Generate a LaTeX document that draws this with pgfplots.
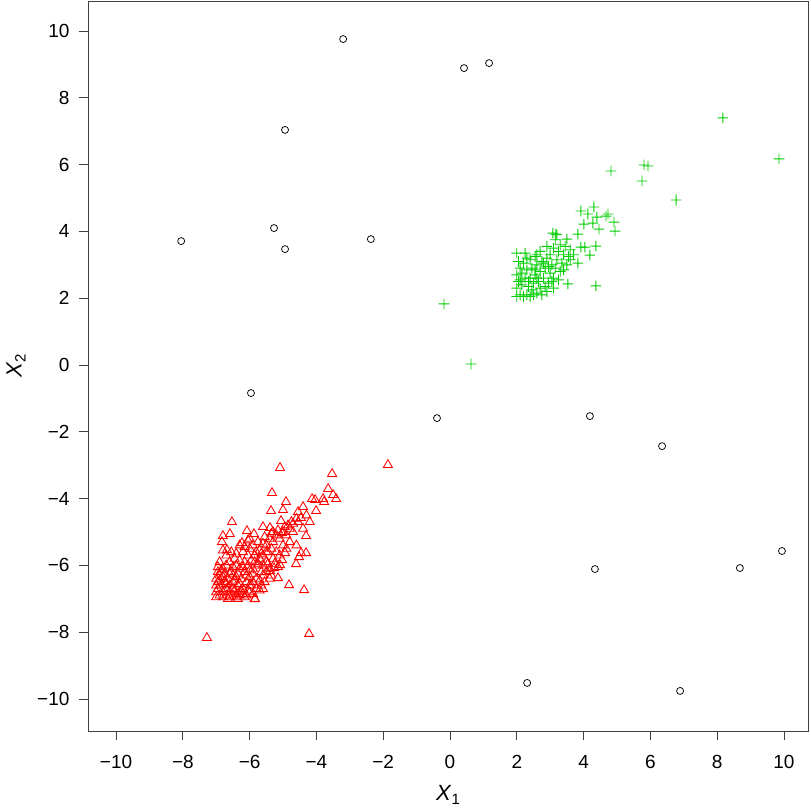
\documentclass[border=0pt]{standalone}
\usepackage{fontspec}
\setmainfont{Liberation Sans}
\usepackage{pgfplots}
\pgfplotsset{compat=1.18}
\definecolor{rgreen}{rgb}{0,0.804,0}
\pgfdeclareplotmark{gplus}{%
  \pgfsetfillcolor{rgreen}%
  \pgfpathrectangle{\pgfqpoint{-\pgfplotmarksize}{-0.45pt}}{\pgfqpoint{2\pgfplotmarksize}{0.9pt}}%
  \pgfpathrectangle{\pgfqpoint{-0.45pt}{-\pgfplotmarksize}}{\pgfqpoint{0.9pt}{2\pgfplotmarksize}}%
  \pgfusepathqfill}
\begin{document}
\begin{tikzpicture}
\begin{axis}[
  scale only axis, width=720pt, height=730pt,
  xmin=-10.84, xmax=10.72, ymin=-10.96, ymax=10.9,
  axis line style={line width=0.8pt, black!75},
  tick style={line width=0.8pt, black!75},
  tick align=outside, tick pos=left, major tick length=9pt,
  xtick={-10,-8,...,10}, ytick={-10,-8,...,10},
  xticklabels={−10,−8,−6,−4,−2,0,2,4,6,8,10},
  yticklabels={−10,−8,−6,−4,−2,0,2,4,6,8,10},
  ticklabel style={font=\fontsize{19}{22}\selectfont},
  xticklabel style={yshift=-12pt},
  yticklabel style={xshift=-6pt},
  xlabel={\textit{X}\raisebox{-0.35ex}{\fontsize{15}{15}\selectfont 1}},
  ylabel={\textit{X}\raisebox{-0.35ex}{\fontsize{15}{15}\selectfont 2}},
  label style={font=\fontsize{22}{24}\selectfont},
  xlabel style={at={(axis description cs:0.5,-0.0877)}, anchor=center},
  ylabel style={at={(axis description cs:-0.1,0.5)}, anchor=center},
  clip=false,
]
% black outliers
\addplot[black, only marks, mark=o, mark size=3.5pt, mark options={line width=0.75pt}] coordinates {
(-3.20,9.76) (0.42,8.89) (1.17,9.04) (-4.94,7.04) (-8.05,3.71) (-5.27,4.10) (-4.94,3.47) (-2.37,3.77)
(-5.96,-0.84) (-0.39,-1.59) (4.19,-1.53) (6.35,-2.43) (4.34,-6.11) (8.68,-6.08) (9.94,-5.57)
(2.31,-9.52) (6.89,-9.76)
};
% red triangles
\addplot[red, only marks, mark=triangle, mark size=5.2pt, mark options={line width=0.85pt}] coordinates {
(-5.09,-3.08) (-1.86,-2.99) (-3.53,-3.26) (-5.33,-3.83) (-3.65,-3.71) (-3.50,-3.89) (-3.41,-4.01)
(-3.80,-4.01) (-3.77,-4.10) (-4.04,-4.04) (-4.91,-4.10) (-5.36,-4.37) (-5.00,-4.34) (-4.40,-4.25)
(-4.55,-4.40) (-4.13,-4.01) (-4.01,-4.37) (-4.46,-4.58) (-6.53,-4.70) (-5.06,-4.67) (-5.60,-4.85)
(-4.31,-5.12) (-6.80,-5.12) (-6.59,-5.06) (-6.83,-5.30) (-6.08,-4.97) (-5.87,-5.06) (-4.46,-5.63)
(-4.31,-5.63) (-4.52,-5.75) (-4.61,-5.96) (-4.94,-5.63) (-5.15,-6.38) (-4.82,-6.59) (-4.37,-6.74)
(-5.84,-7.01) (-7.28,-8.17) (-4.22,-8.05) (-6.23,-5.33) (-5.03,-5.03) (-5.39,-4.88) (-5.30,-5.00)
(-6.68,-5.54) (-5.60,-6.71) (-5.03,-5.84) (-5.09,-5.99) (-5.27,-6.08) (-5.39,-6.17)
(-7.0,-6.95) (-6.9,-6.9) (-6.8,-6.95) (-6.7,-6.9) (-6.6,-6.95) (-6.5,-6.9) (-6.4,-6.95) (-6.3,-6.9)
(-6.2,-6.85) (-6.1,-6.9) (-6.0,-6.8) (-5.9,-6.85) (-5.8,-6.7) (-5.7,-6.75)
(-7.0,-6.8) (-6.95,-6.7) (-7.0,-6.6) (-6.95,-6.5) (-7.0,-6.4) (-6.9,-6.3) (-6.95,-6.2)
(-6.85,-6.6) (-6.75,-6.5) (-6.8,-6.8) (-6.7,-6.7) (-6.65,-6.4) (-6.6,-6.6) (-6.55,-6.2) (-6.5,-6.5)
(-6.45,-6.75) (-6.4,-6.35) (-6.35,-6.6) (-6.3,-6.1) (-6.25,-6.4) (-6.2,-6.7) (-6.15,-6.2) (-6.1,-6.5)
(-6.05,-6.0) (-6.0,-6.35) (-5.95,-6.6) (-5.9,-6.1) (-5.85,-5.9) (-5.8,-6.4) (-5.75,-6.0) (-5.7,-5.8)
(-5.65,-6.2) (-5.6,-5.7) (-5.55,-6.5) (-5.5,-5.9) (-5.45,-5.6) (-5.4,-6.1) (-5.35,-5.5) (-5.3,-5.8)
(-6.8,-6.1) (-6.7,-6.0) (-6.75,-6.25) (-6.6,-5.9) (-6.5,-6.05) (-6.45,-5.8) (-6.4,-6.0) (-6.3,-5.85)
(-6.2,-5.6) (-6.15,-5.9) (-6.05,-5.7) (-6.0,-5.5) (-5.95,-5.85) (-5.9,-5.4) (-5.8,-5.6) (-5.75,-5.3)
(-5.7,-5.55) (-5.6,-5.35) (-5.55,-5.15) (-5.5,-5.4) (-5.4,-5.2) (-5.35,-5.05) (-5.3,-5.3) (-5.2,-5.1)
(-5.15,-4.95) (-5.1,-5.2) (-5.0,-5.0) (-4.95,-4.85) (-4.9,-5.1) (-4.85,-4.8) (-4.8,-4.9) (-4.75,-4.7)
(-4.7,-4.75) (-4.6,-4.6) (-4.55,-4.7)
(-6.6,-6.8) (-6.4,-6.85) (-6.25,-6.75) (-6.05,-6.75) (-5.9,-6.5) (-5.7,-6.45) (-5.6,-6.3) (-5.5,-6.2)
(-5.4,-6.4) (-5.45,-5.95) (-5.25,-5.95) (-5.2,-5.6) (-5.1,-5.7) (-5.0,-5.4) (-4.9,-5.5)
(-6.9,-6.45) (-6.85,-6.15) (-6.8,-6.35) (-6.7,-6.55) (-6.6,-6.25) (-6.5,-6.7) (-6.45,-6.45) (-6.35,-6.25)
(-6.3,-6.55) (-6.2,-6.05) (-6.1,-6.3) (-6.0,-6.15) (-5.9,-6.25) (-5.85,-5.7) (-5.75,-5.95) (-5.65,-5.65)
(-5.6,-6.0) (-5.5,-5.6)
(-6.7,-5.7) (-6.55,-5.6) (-6.4,-5.65) (-6.3,-5.4) (-6.15,-5.45) (-6.05,-5.25) (-6.0,-5.2) (-6.9,-5.9)
(-6.8,-5.55) (-6.95,-6.05)
(-6.65,-7.0) (-6.35,-7.0) (-6.15,-6.95) (-5.85,-7.0) (-6.5,-6.3) (-6.3,-6.8) (-6.0,-6.6) (-5.65,-6.6)
(-5.35,-6.3) (-5.15,-6.05)
(-4.8,-5.3) (-4.7,-5.0) (-4.6,-5.4) (-4.4,-4.9) (-4.3,-4.5) (-4.2,-4.7)
};
% green plus
\addplot[rgreen, only marks, mark=gplus, mark size=5.3pt] coordinates {
(2.0,2.05) (2.1,2.1) (2.2,2.05) (2.3,2.1) (2.4,2.05) (2.5,2.1) (2.6,2.15) (2.75,2.1) (2.9,2.2) (3.1,2.3)
(2.0,2.3) (2.05,2.5) (2.0,2.7) (2.1,2.9) (2.05,3.1) (2.0,3.35) (2.25,3.35) (2.15,2.4) (2.25,2.6)
(2.3,2.85) (2.2,3.05) (2.35,2.35) (2.4,2.6) (2.45,2.9) (2.4,3.15) (2.5,2.45) (2.55,2.7) (2.6,3.0)
(2.55,3.25) (2.65,2.5) (2.7,2.8) (2.75,3.1) (2.7,3.4) (2.8,2.6) (2.85,2.9) (2.9,3.2) (2.95,2.45)
(3.0,2.75) (3.05,3.0) (3.0,3.3) (3.1,2.6) (3.15,2.9) (3.2,3.15) (3.25,3.4) (3.3,2.8) (3.35,3.05)
(3.4,3.3) (3.45,3.55) (3.5,3.0) (3.55,3.25) (3.6,3.45) (3.3,3.6) (3.1,3.5) (3.15,3.75) (3.2,3.9)
(3.08,3.95) (3.17,3.92) (2.9,3.55) (2.6,3.3) (2.3,3.2) (2.15,2.75) (2.45,2.25) (2.7,2.3) (2.85,2.35)
(3.05,2.5) (3.25,2.55) (2.35,2.5) (2.55,2.85) (2.8,3.05) (3.4,2.85) (3.6,3.15) (3.7,3.3) (2.1,2.55)
(2.6,2.6) (2.95,2.95)
(3.92,4.61) (4.31,4.73) (4.13,4.52) (4.40,4.43) (4.67,4.46) (4.73,4.52) (4.91,4.28) (4.94,4.01)
(4.01,4.22) (4.28,4.25) (4.46,4.07) (3.83,3.92) (3.50,3.77) (3.92,3.53) (4.04,3.53) (4.37,3.56)
(4.19,3.29) (3.83,3.05) (3.53,2.43) (4.37,2.37) (8.17,7.40) (9.85,6.17) (6.77,4.94) (5.81,5.99)
(5.93,5.96) (5.75,5.51) (4.82,5.81) (-0.18,1.83) (0.63,0.03)
};
\end{axis}
\useasboundingbox (current axis.south west)++(-88pt,-79pt) rectangle ([shift={(2pt,1pt)}]current axis.north east);
\end{tikzpicture}
\end{document}
